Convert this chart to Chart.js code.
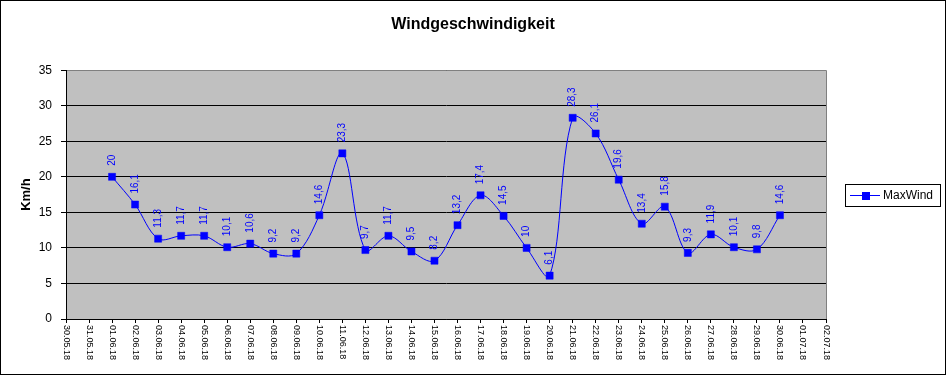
<!DOCTYPE html>
<html>
<head>
<meta charset="utf-8">
<title>Windgeschwindigkeit</title>
<script src="https://cdn.jsdelivr.net/npm/chart.js@4/dist/chart.umd.min.js"></script>
<style>
  html, body { margin: 0; padding: 0; background: #fff; }
  canvas { display: block; }
</style>
</head>
<body>
<canvas id="wind" width="946" height="375"></canvas>
<script>
// Windgeschwindigkeit Juni 2018 - MaxWind je Tag (Km/h)

const dates = [
  '30.05.18', '31.05.18',
  '01.06.18', '02.06.18', '03.06.18', '04.06.18', '05.06.18', '06.06.18', '07.06.18', '08.06.18',
  '09.06.18', '10.06.18', '11.06.18', '12.06.18', '13.06.18', '14.06.18', '15.06.18', '16.06.18',
  '17.06.18', '18.06.18', '19.06.18', '20.06.18', '21.06.18', '22.06.18', '23.06.18', '24.06.18',
  '25.06.18', '26.06.18', '27.06.18', '28.06.18', '29.06.18', '30.06.18',
  '01.07.18', '02.07.18'
];
// no values for the days outside June
const maxWind = [
  null, null,
  20, 16.1, 11.3, 11.7, 11.7, 10.1, 10.6, 9.2,
  9.2, 14.6, 23.3, 9.7, 11.7, 9.5, 8.2, 13.2,
  17.4, 14.5, 10, 6.1, 28.3, 26.1, 19.6, 13.4,
  15.8, 9.3, 11.9, 10.1, 9.8, 14.6,
  null, null
];
const yMin = 0;
const yMax = 35;
const yStep = 5;
const seriesName = 'MaxWind';

const BLUE = '#0000ff';
const FONT = 'Arial, "Liberation Sans", sans-serif';
const fmt = v => String(v).replace('.', ',');

// Excel-ish extras: grey plot area, rotated labels, legend box, frame
const excelLook = {
  id: 'excelLook',
  beforeDraw(chart) {
    const { ctx, chartArea: a } = chart;
    ctx.save();
    ctx.fillStyle = '#c0c0c0';
    ctx.fillRect(a.left, a.top, a.right - a.left, a.bottom - a.top);
    ctx.restore();
  },
  beforeDatasetsDraw(chart) {
    const { ctx, chartArea: a } = chart;
    ctx.save();
    ctx.strokeStyle = '#808080';
    ctx.lineWidth = 1;
    ctx.beginPath();
    ctx.moveTo(a.left + 1, Math.round(a.top) + 0.5);
    ctx.lineTo(Math.round(a.right) + 0.5, Math.round(a.top) + 0.5);
    ctx.lineTo(Math.round(a.right) + 0.5, Math.round(a.bottom));
    ctx.stroke();
    ctx.restore();
  },
  afterDatasetsDraw(chart) {
    const { ctx } = chart;
    const meta = chart.getDatasetMeta(0);
    ctx.save();
    ctx.fillStyle = BLUE;
    ctx.font = '10px ' + FONT;
    ctx.textAlign = 'left';
    ctx.textBaseline = 'middle';
    meta.data.forEach((pt, i) => {
      const v = maxWind[i];
      if (v === null) return;
      ctx.save();
      ctx.translate(pt.x, pt.y - 11);
      ctx.rotate(-Math.PI / 2);
      ctx.fillText(fmt(v), 0, 0);
      ctx.restore();
    });
    ctx.restore();
  },
  afterDraw(chart) {
    const { ctx, chartArea: a } = chart;
    const xs = chart.scales.x;
    ctx.save();
    // date labels, reading top to bottom
    ctx.fillStyle = '#000';
    ctx.font = '9px ' + FONT;
    ctx.textAlign = 'left';
    ctx.textBaseline = 'middle';
    dates.forEach((d, i) => {
      ctx.save();
      ctx.translate(xs.getPixelForTick(i), a.bottom + 6);
      ctx.rotate(Math.PI / 2);
      ctx.fillText(d, 0, 0);
      ctx.restore();
    });
    // legend box
    ctx.strokeStyle = '#000';
    ctx.lineWidth = 1;
    ctx.strokeRect(845.5, 184.5, 95, 22);
    ctx.strokeStyle = BLUE;
    ctx.beginPath();
    ctx.moveTo(850, 195.5);
    ctx.lineTo(880, 195.5);
    ctx.stroke();
    ctx.fillStyle = BLUE;
    ctx.fillRect(862, 192, 8, 8);
    ctx.fillStyle = '#000';
    ctx.font = '12px ' + FONT;
    ctx.fillText(seriesName, 883, 196);
    // outer frame
    ctx.strokeStyle = '#000';
    ctx.strokeRect(0.5, 0.5, chart.width - 1, chart.height - 1);
    ctx.restore();
  }
};

new Chart(document.getElementById('wind'), {
  type: 'line',
  data: {
    labels: dates,
    datasets: [{
      label: seriesName,
      data: maxWind,
      borderColor: BLUE,
      backgroundColor: BLUE,
      borderWidth: 1,
      tension: 0.35,
      pointStyle: 'rect',
      pointRadius: 5,
      pointBorderWidth: 0.5,
      pointBackgroundColor: BLUE,
      pointBorderColor: BLUE
    }]
  },
  options: {
    responsive: false,
    devicePixelRatio: 1,
    animation: false,
    layout: { padding: 0 },
    plugins: {
      legend: { display: false },
      tooltip: { enabled: false },
      title: {
        display: true,
        text: 'Windgeschwindigkeit',
        color: '#000',
        font: { family: FONT, size: 16, weight: 'bold' },
        padding: { top: 15, bottom: 36 }
      }
    },
    scales: {
      x: {
        type: 'category',
        offset: false,
        ticks: { display: false },
        grid: { drawOnChartArea: false, drawTicks: true, tickLength: 4, color: '#000' },
        border: { color: '#000' },
        afterFit: s => { s.height = 56; }
      },
      y: {
        min: yMin,
        max: yMax,
        ticks: {
          stepSize: yStep,
          color: '#000',
          padding: 9,
          font: { family: FONT, size: 12 }
        },
        grid: { color: '#000', tickLength: 5 },
        border: { color: '#000' },
        title: {
          display: true,
          text: 'Km/h',
          color: '#000',
          font: { family: FONT, size: 13, weight: 'bold' },
          padding: { top: 19, bottom: 0 }
        },
        afterFit: s => { s.width = 66; }
      },
      // empty right axis, only keeps room for the legend box
      spacer: {
        position: 'right',
        ticks: { display: false },
        grid: { display: false },
        border: { display: false },
        afterFit: s => { s.width = 120; }
      }
    }
  },
  plugins: [excelLook]
});
</script>
</body>
</html>
